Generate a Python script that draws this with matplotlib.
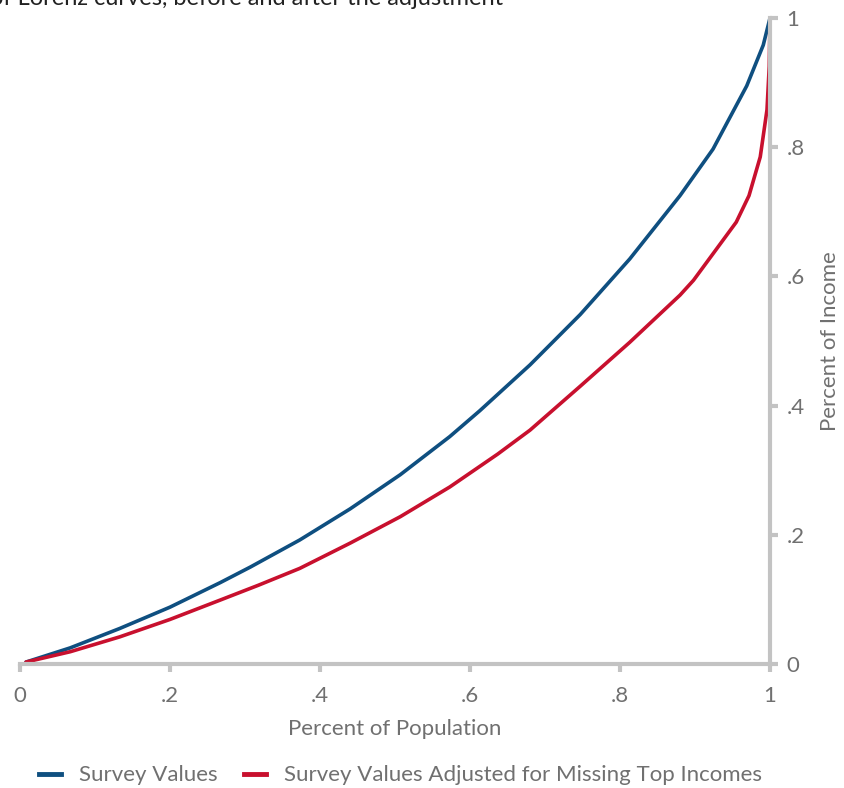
import matplotlib
matplotlib.use("Agg")
import matplotlib.pyplot as plt
from matplotlib.lines import Line2D

# Lorenz curve points
pop_share = [0.008, 0.067, 0.133, 0.2, 0.267, 0.307, 0.373, 0.44, 0.507, 0.573,
             0.613, 0.68, 0.747, 0.813, 0.88, 0.924, 0.969, 0.991, 1.0]
survey = [0.003, 0.025, 0.055, 0.088, 0.126, 0.150, 0.192, 0.240, 0.293, 0.352,
          0.392, 0.463, 0.541, 0.627, 0.725, 0.797, 0.895, 0.958, 1.0]

pop_share_adj = [0.008, 0.067, 0.133, 0.2, 0.267, 0.318, 0.373, 0.44, 0.507, 0.573,
                 0.637, 0.68, 0.747, 0.813, 0.88, 0.898, 0.924, 0.955, 0.972, 0.987,
                 0.996, 0.999, 1.0]
survey_adj = [0.003, 0.019, 0.042, 0.069, 0.099, 0.122, 0.148, 0.187, 0.228, 0.274,
              0.325, 0.362, 0.430, 0.498, 0.571, 0.594, 0.635, 0.684, 0.725, 0.785,
              0.858, 0.925, 1.0]

ticks = [0, 0.2, 0.4, 0.6, 0.8, 1.0]
tick_labels = ["0", ".2", ".4", ".6", ".8", "1"]

BLUE = "#0f4f80"
RED = "#c8102e"
GREY = "#c3c3c3"
TEXT = "#707070"

plt.rcParams["font.family"] = ["Lato", "DejaVu Sans"]

fig = plt.figure(figsize=(8.45, 7.88), dpi=100)
ax = fig.add_axes([20 / 845, (788 - 664) / 788, 750 / 845, 646 / 788])

ax.plot(pop_share, survey, color=BLUE, lw=2.6, solid_joinstyle="round", solid_capstyle="round")
ax.plot(pop_share_adj, survey_adj, color=RED, lw=2.6, solid_joinstyle="round", solid_capstyle="round")

ax.set_xlim(0, 1)
ax.set_ylim(0, 1)
for s in ["top", "left"]:
    ax.spines[s].set_visible(False)
for s in ["bottom", "right"]:
    ax.spines[s].set_color(GREY)
    ax.spines[s].set_linewidth(3)

ax.yaxis.tick_right()
ax.yaxis.set_label_position("right")
ax.set_xticks(ticks)
ax.set_xticklabels(tick_labels)
ax.set_yticks(ticks)
ax.set_yticklabels(tick_labels)
ax.tick_params(colors=GREY, labelcolor=TEXT, width=3, length=6, labelsize=16, pad=6)
ax.tick_params(axis="x", pad=10)
ax.set_xlabel("Percent of Population", color=TEXT, fontsize=16, labelpad=9)
ax.set_ylabel("Percent of Income", color=TEXT, fontsize=16, labelpad=11)

# title cut off at the top of the image, as in the source
fig.text(-0.012, 1.002, "of Lorenz curves, before and after the adjustment",
         fontsize=17, color="#222222", va="center", ha="left")

handles = [Line2D([0], [0], color=BLUE, lw=3.5),
           Line2D([0], [0], color=RED, lw=3.5)]
fig.legend(handles, ["Survey Values", "Survey Values Adjusted for Missing Top Incomes"],
           loc="lower left", bbox_to_anchor=(0.022, -0.022), ncol=2, frameon=False,
           handlelength=1.0, handletextpad=0.8, columnspacing=1.2,
           fontsize=16, labelcolor=TEXT)

fig.savefig("out.png", dpi=100)
